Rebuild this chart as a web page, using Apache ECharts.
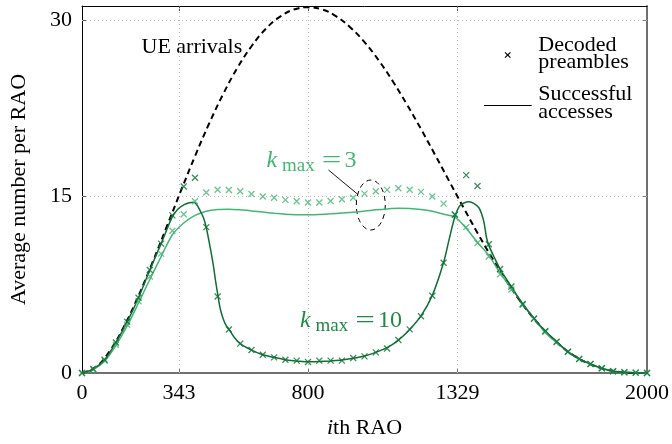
<!DOCTYPE html>
<html><head><meta charset="utf-8">
<script src="https://cdn.jsdelivr.net/npm/echarts@6/dist/echarts.min.js"></script>
<style>html,body{margin:0;padding:0;background:#fff}#c{width:672px;height:444px}</style>
</head><body><div id="c"></div>
<script>
const FONT = 'Liberation Serif';
const DARK = '#0f6e33';
const LIGHT = '#46b574';
const MID = '#1f8a45';

const xTickValues = [0, 343, 800, 1329, 2000];
const yTickValues = [0, 15, 30];

// UE arrivals (dashed black)
const arrivalsRao = [0,50,100,150,200,250,300,350,400,450,500,550,600,650,700,750,800,850,900,950,1000,
  1050,1100,1150,1200,1250,1300,1350,1400,1450,1500,1550,1600,1650,1700,1750,1800,1850,1900,1950,2000];
const arrivals = [0,0.52,1.93,4.01,6.56,9.42,12.44,15.48,18.43,21.21,23.73,25.94,27.78,29.24,30.28,30.90,31.10,
  30.91,30.32,29.38,28.13,26.59,24.81,22.84,20.74,18.54,16.30,14.08,11.91,9.84,7.91,6.16,4.61,3.28,2.20,1.35,
  0.73,0.33,0.10,0.01,0];

// marker positions (every 40 RAOs)
const markerRao = [0,40,80,120,160,200,240,280,320,360,400,440,480,520,560,600,640,680,720,760,800,840,880,920,
  960,1000,1040,1080,1120,1160,1200,1240,1280,1320,1360,1400,1440,1480,1520,1560,1600,1640,1680,1720,1760,1800,
  1840,1880,1920,1960,2000];
// decoded preambles, k_max = 10
const decodedK10 = [0,0.35,1.13,2.6,4.35,6.4,8.75,11.0,13.4,15.85,16.6,12.4,6.5,3.7,2.5,1.95,1.55,1.33,1.12,1.05,
  0.93,1.05,1.05,1.05,1.27,1.41,1.75,2.09,2.81,3.71,4.83,6.57,9.37,13.46,16.82,15.9,10.94,8.84,7.35,5.87,4.64,
  3.57,2.67,1.81,1.19,0.77,0.41,0.15,0.07,0.03,0];
// decoded preambles, k_max = 3
const decodedK3 = [0,0.3,1.05,2.4,4.1,6.1,8.2,10.15,12.1,13.5,14.6,15.35,15.58,15.56,15.45,15.22,15.0,14.9,14.72,
  14.6,14.5,14.5,14.62,14.77,14.9,15.25,15.45,15.57,15.7,15.58,15.4,15.0,14.4,13.5,12.4,11.05,9.9,8.4,7.1,5.8,
  4.6,3.5,2.62,1.8,1.2,0.77,0.41,0.15,0.06,0.02,0];

// successful accesses, k_max = 10
const successK10Rao = [0,40,80,120,160,200,240,280,320,340,360,380,395,405,417,430,440,452,464,473,482,490,500,
  510,521,540,560,600,640,680,720,760,800,840,880,920,960,1000,1040,1080,1120,1160,1200,1240,1280,1300,1320,
  1335,1352,1370,1388,1405,1415,1423,1432,1440,1460,1480,1520,1560,1600,1640,1680,1720,1760,1800,1840,1880,
  1920,1960,2000];
const successK10 = [0,0.35,1.13,2.6,4.35,6.4,8.75,11.0,13.3,13.95,14.3,14.48,14.52,14.35,13.85,13.2,12.35,10.9,
  9.3,7.8,6.45,5.4,4.6,4.05,3.7,3.0,2.5,1.95,1.55,1.33,1.12,1.03,0.95,0.98,1.03,1.1,1.25,1.45,1.75,2.15,2.8,3.7,
  4.85,6.6,9.4,11.4,13.3,14.15,14.45,14.55,14.4,14.05,13.5,12.8,11.5,10.85,9.8,8.84,7.35,5.87,4.64,3.57,2.67,
  1.81,1.19,0.77,0.41,0.15,0.06,0.02,0];

// successful accesses, k_max = 3 (same positions as markers)
const successK3 = [0,0.3,1.0,2.35,4.0,5.95,7.95,9.9,11.75,12.75,13.4,13.75,13.9,13.93,13.87,13.78,13.68,13.58,
  13.5,13.46,13.45,13.48,13.53,13.6,13.67,13.77,13.87,13.95,14.0,13.98,13.9,13.75,13.5,13.25,12.3,11.1,10.0,8.5,
  7.2,5.9,4.65,3.45,2.6,1.8,1.2,0.75,0.4,0.17,0.06,0.02,0];

function zip(xs, ys) { return xs.map((x, i) => [x, ys[i]]); }

const chart = echarts.init(document.getElementById('c'), null, {renderer: 'canvas'});

const crossPath = 'path://M0,0L10,10M10,0L0,10';

function txt(text, x, y, size, color, italic, align) {
  return {type: 'text', silent: true, style: {
    text: text, x: x, y: y, fontSize: size, fontFamily: FONT, fontStyle: italic ? 'italic' : 'normal',
    fill: color, textAlign: align || 'left', textVerticalAlign: 'middle'}};
}

function mathLabel(x0, base, num, color) {
  const mid = (fs, b) => b - 0.305 * fs;
  const eq = txt('=', 0, 0, 24, color, false, 'center');
  eq.x = x0 + 65; eq.y = mid(24, base); eq.scaleX = 1.45;
  return {
    type: 'group', silent: true, children: [
      txt('k', x0, mid(24, base), 24, color, true),
      txt('max', x0 + 15.5, mid(19, base + 3.5), 19, color, false),
      eq,
      txt(num, x0 + 78, mid(24, base), 24, color, false)
    ]
  };
}

const option = {
  animation: false,
  backgroundColor: '#fff',
  grid: {left: 82, top: 6, width: 566, height: 371.5, containLabel: false},
  xAxis: [
    {
      type: 'value', min: 0, max: 2000, position: 'bottom',
      axisLine: {show: true, onZero: false, lineStyle: {color: '#707070', width: 2}},
      axisTick: {show: true, inside: true, length: 5, customValues: [343, 800, 1329], lineStyle: {color: '#777'}},
      axisLabel: {show: true, customValues: xTickValues, fontFamily: FONT, fontSize: 22, color: '#000', margin: 9,
        formatter: v => String(v)},
      splitLine: {show: false},
      name: '{i|i}th RAO', nameLocation: 'middle', nameGap: 44,
      nameTextStyle: {fontFamily: FONT, fontSize: 22, color: '#000',
        rich: {i: {fontFamily: FONT, fontSize: 22, fontStyle: 'italic', color: '#000'}}}
    },
    {
      type: 'value', min: 0, max: 2000, position: 'top',
      axisLine: {show: true, onZero: false, lineStyle: {color: '#000', width: 1}},
      axisTick: {show: true, inside: true, length: 5, customValues: [343, 800, 1329], lineStyle: {color: '#555'}},
      axisLabel: {show: false},
      splitLine: {show: false}
    }
  ],
  yAxis: [
    {
      type: 'value', min: 0, max: 31.2, interval: 15, position: 'left',
      axisLine: {show: true, onZero: false, lineStyle: {color: '#000', width: 1}},
      axisTick: {show: true, inside: true, length: 5, customValues: [15, 30], lineStyle: {color: '#555'}},
      axisLabel: {show: true, customValues: yTickValues, fontFamily: FONT, fontSize: 22, color: '#000', margin: 10,
        formatter: v => (yTickValues.indexOf(v) >= 0 ? String(v) : '')},
      splitLine: {show: false},
      name: 'Average number per RAO', nameLocation: 'middle', nameGap: 52,
      nameTextStyle: {fontFamily: FONT, fontSize: 22, color: '#000'}
    },
    {
      type: 'value', min: 0, max: 31.2, interval: 15, position: 'right',
      axisLine: {show: true, onZero: false, lineStyle: {color: '#707070', width: 2}},
      axisTick: {show: true, inside: true, length: 5, customValues: [15, 30], lineStyle: {color: '#777'}},
      axisLabel: {show: false},
      splitLine: {show: false}
    }
  ],
  series: [
    {
      name: 'UE arrivals', type: 'line', xAxisIndex: 0, yAxisIndex: 0,
      data: zip(arrivalsRao, arrivals), smooth: 0.4, showSymbol: false, symbol: 'none',
      lineStyle: {color: '#000', width: 2, type: [6, 4]}, z: 2,
      markLine: {
        silent: true, symbol: ['none', 'none'], label: {show: false}, z: 1,
        lineStyle: {color: '#bdbdbd', width: 1, type: [1, 3]},
        data: [{xAxis: 343}, {xAxis: 800}, {xAxis: 1329}, {yAxis: 15}, {yAxis: 30}]
      }
    },
    {
      name: 'Successful accesses k3', type: 'line', xAxisIndex: 0, yAxisIndex: 0,
      data: zip(markerRao, successK3), smooth: 0.3, symbol: 'none', showSymbol: false,
      lineStyle: {color: LIGHT, width: 1.5}, z: 3
    },
    {
      name: 'Successful accesses k10', type: 'line', xAxisIndex: 0, yAxisIndex: 0,
      data: zip(successK10Rao, successK10), smooth: 0.3, symbol: 'none', showSymbol: false,
      lineStyle: {color: DARK, width: 1.5}, z: 4
    },
    {
      name: 'Decoded preambles k3', type: 'scatter', xAxisIndex: 0, yAxisIndex: 0,
      data: zip(markerRao, decodedK3), symbol: crossPath, symbolSize: 6,
      itemStyle: {color: LIGHT, borderColor: LIGHT, borderWidth: 1.3}, z: 5
    },
    {
      name: 'Decoded preambles k10', type: 'scatter', xAxisIndex: 0, yAxisIndex: 0,
      data: zip(markerRao, decodedK10), symbol: crossPath, symbolSize: 6,
      itemStyle: {color: DARK, borderColor: DARK, borderWidth: 1.3}, z: 6
    }
  ],
  graphic: [
    txt('UE arrivals', 141.5, 47, 22, '#000', false),
    mathLabel(266.5, 168.5, '3', LIGHT),
    mathLabel(300, 328.3, '10', MID),
    {type: 'line', silent: true, shape: {x1: 328.5, y1: 170, x2: 358, y2: 194.5}, style: {stroke: '#000', lineWidth: 0.9}},
    {type: 'ellipse', silent: true, shape: {cx: 370.8, cy: 205, rx: 14.5, ry: 25}, style: {fill: 'none', stroke: '#000', lineWidth: 1, lineDash: [5, 4]}},
    // legend
    {type: 'line', silent: true, shape: {x1: 505, y1: 52.3, x2: 510.4, y2: 57.7}, style: {stroke: '#000', lineWidth: 1.2}},
    {type: 'line', silent: true, shape: {x1: 505, y1: 57.7, x2: 510.4, y2: 52.3}, style: {stroke: '#000', lineWidth: 1.2}},
    txt('Decoded', 538.3, 45.3, 22, '#000', false),
    txt('preambles', 538.3, 62, 22, '#000', false),
    {type: 'line', silent: true, shape: {x1: 484, y1: 105.5, x2: 531.7, y2: 105.5}, style: {stroke: '#000', lineWidth: 1}},
    txt('Successful', 538.3, 94.3, 22, '#000', false),
    txt('accesses', 538.3, 112.6, 22, '#000', false)
  ]
};
chart.setOption(option);
</script>
</body></html>
